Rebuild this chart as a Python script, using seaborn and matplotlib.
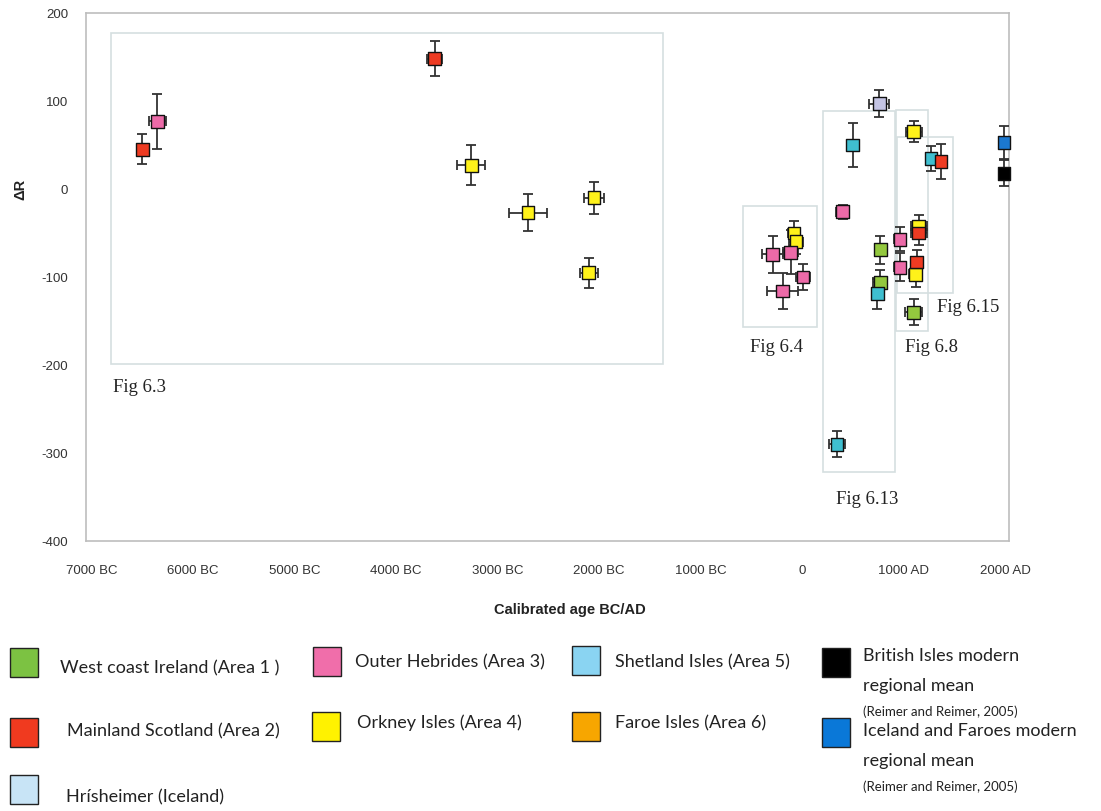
import numpy as np
import pandas as pd
import matplotlib
matplotlib.use("Agg")
import matplotlib.pyplot as plt
from matplotlib.patches import Rectangle
import seaborn as sns

# ---- data: calibrated age (negative = BC), Delta-R and 1-sigma errors ----
region = [
    "Mainland Scotland", "Outer Hebrides", "Mainland Scotland", "Orkney Isles",
    "Orkney Isles", "Orkney Isles", "Orkney Isles",
    "Outer Hebrides", "Orkney Isles", "Orkney Isles", "Outer Hebrides",
    "Outer Hebrides", "Outer Hebrides",
    "Hrisheimer", "Shetland Isles", "Outer Hebrides", "West coast Ireland",
    "West coast Ireland", "Shetland Isles", "Shetland Isles",
    "Orkney Isles", "Outer Hebrides", "Outer Hebrides", "West coast Ireland",
    "Orkney Isles", "Mainland Scotland",
    "Shetland Isles", "Mainland Scotland", "Orkney Isles", "Mainland Scotland",
    "Iceland and Faroes mean", "British Isles mean",
]
age = [
    -6500, -6350, -3620, -3260, -2700, -2050, -2100,
    -290, -80, -60, -110, 10, -190,
    760, 500, 400, 770, 770, 740, 345,
    1100, 965, 965, 1100, 1120, 1130,
    1270, 1370, 1150, 1150,
    1990, 1990,
]
age_err = [
    0, 85, 70, 140, 190, 100, 90,
    100, 55, 70, 75, 65, 155,
    100, 0, 65, 55, 70, 50, 80,
    80, 55, 55, 85, 65, 60,
    0, 0, 80, 80,
    0, 0,
]
delta_r = [
    45, 77, 148, 27, -27, -10, -95,
    -74, -50, -60, -72, -100, -116,
    97, 50, -26, -69, -106, -119, -290,
    65, -57, -89, -140, -97, -83,
    35, 31, -42, -50,
    53, 18,
]
delta_r_err = [
    17, 31, 20, 23, 21, 18, 17,
    21, 14, 14, 25, 15, 20,
    15, 25, 8, 16, 14, 17, 15,
    12, 14, 16, 15, 14, 14,
    14, 20, 12, 14,
    19, 15,
]

x_ticks = [-7000, -6000, -5000, -4000, -3000, -2000, -1000, 0, 1000, 2000]
x_tick_labels = ["7000 BC", "6000 BC", "5000 BC", "4000 BC", "3000 BC",
                 "2000 BC", "1000 BC", "0", "1000 AD", "2000 AD"]
y_ticks = [-400, -300, -200, -100, 0, 100, 200]

# figure sub-regions discussed in the text (age0, dr0, age1, dr1)
fig_boxes = {
    "Fig 6.3": (-6810, -199, -1370, 177),
    "Fig 6.4": (-581, -157, 148, -19),
    "Fig 6.13": (207, -322, 916, 89),
    "Fig 6.8": (926, -161, 1241, 90),
    "Fig 6.15": (936, -118, 1488, 59),
}
fig_label_pos = {
    "Fig 6.3": (-6790, -226),
    "Fig 6.4": (-512, -180),
    "Fig 6.13": (335, -353),
    "Fig 6.8": (1015, -180),
    "Fig 6.15": (1330, -135),
}

point_colors = {
    "West coast Ireland": "#93C83E",
    "Mainland Scotland": "#EE3B22",
    "Outer Hebrides": "#EC6AA8",
    "Orkney Isles": "#FFF21A",
    "Shetland Isles": "#3FBFD0",
    "Faroe Isles": "#F5A81C",
    "British Isles mean": "#000000",
    "Iceland and Faroes mean": "#1B78D0",
    "Hrisheimer": "#C4C4E4",
}

# key entries: (colour, text lines, small citation line)
key_entries = [
    ("#7CC242", ["West coast Ireland (Area 1 )"], None),
    ("#F06EAA", ["Outer Hebrides (Area 3)"], None),
    ("#8AD4F2", ["Shetland Isles (Area 5)"], None),
    ("#000000", ["British Isles modern", "regional mean"], "(Reimer and Reimer, 2005)"),
    ("#F03A1F", ["Mainland Scotland (Area 2)"], None),
    ("#FFF200", ["Orkney Isles (Area 4)"], None),
    ("#F7A600", ["Faroe Isles (Area 6)"], None),
    ("#0A78D8", ["Iceland and Faroes modern", "regional mean"], "(Reimer and Reimer, 2005)"),
    ("#C8E4F6", ["Hrísheimer (Iceland)"], None),
]
# pixel layout of the key (patch left, patch top, text left, first text line centre)
key_layout = [
    (10, 648, 60, 668), (313, 647, 355, 662), (572, 646, 615, 662), (822, 648, 863, 656),
    (10, 718, 67, 731), (312, 712, 357, 723), (572, 712, 615, 723), (822, 718, 863, 731),
    (10, 775, 66, 797),
]

df = pd.DataFrame({"region": region, "age": age, "age_err": age_err,
                   "dr": delta_r, "dr_err": delta_r_err})

sns.set_theme(style="white")
plt.rcParams["font.family"] = ["Liberation Sans", "DejaVu Sans"]
plt.rcParams["axes.unicode_minus"] = False

W, H = 1101, 811
fig = plt.figure(figsize=(W / 100, H / 100), dpi=100)
ax = fig.add_axes([86 / W, 1 - 541 / H, (1009 - 86) / W, (541 - 13) / H])

# boxes around sub-figures
for name, (x0, y0, x1, y1) in fig_boxes.items():
    ax.add_patch(Rectangle((x0, y0), x1 - x0, y1 - y0, fill=False,
                           edgecolor="#d5dfe0", linewidth=1.2, zorder=1))
    lx, ly = fig_label_pos[name]
    ax.text(lx, ly, name, fontsize=13.5, family=["Liberation Serif", "DejaVu Serif"],
            color="#222222", ha="left", va="center", zorder=2)

# error bars
eb = ax.errorbar(df["age"], df["dr"], xerr=df["age_err"], yerr=df["dr_err"],
                 fmt="none", ecolor="#333333", elinewidth=1.3, capsize=3.5,
                 capthick=1.3, zorder=3)
for artist in eb.get_children():
    artist.set_clip_on(False)

sns.scatterplot(data=df, x="age", y="dr", hue="region", palette=point_colors,
                marker="s", s=85, edgecolor="#111111", linewidth=1.0,
                legend=False, ax=ax, zorder=4, clip_on=False)

ax.set_xlim(-7054, 2039)
ax.set_ylim(-400, 200)
ax.set_xticks(x_ticks)
ax.set_xticklabels(x_tick_labels)
ax.set_yticks(y_ticks)
ax.tick_params(axis="both", length=0, labelsize=9.5, colors="#333333")
ax.tick_params(axis="y", pad=13)
ax.tick_params(axis="x", pad=17)
for s in ax.spines.values():
    s.set_color("#bdbdbd")
    s.set_linewidth(1.2)

ax.set_xlabel("Calibrated age BC/AD", fontsize=10.5, fontweight="bold",
              color="#222222")
ax.xaxis.set_label_coords(0.524, -0.117)
ax.set_ylabel("ΔR", fontsize=10.5, fontweight="bold", color="#222222")
ax.yaxis.set_label_coords(-0.063, 0.665)

# colour key below the chart
key_font = ["Lato", "DejaVu Sans"]
for (col, lines, cite), (px, py, tx, ty) in zip(key_entries, key_layout):
    fig.patches.append(Rectangle((px / W, 1 - (py + 29) / H), 28 / W, 29 / H,
                                 facecolor=col, edgecolor="#222222", linewidth=1.0,
                                 transform=fig.transFigure, figure=fig))
    y = ty
    for ln in lines:
        fig.text(tx / W, 1 - y / H, ln, fontsize=13, family=key_font,
                 color="#222222", ha="left", va="center")
        y += 30
    if cite:
        fig.text(tx / W, 1 - (y - 4) / H, cite, fontsize=9.5, family=key_font,
                 color="#222222", ha="left", va="center")

fig.savefig("out.png", dpi=100)
